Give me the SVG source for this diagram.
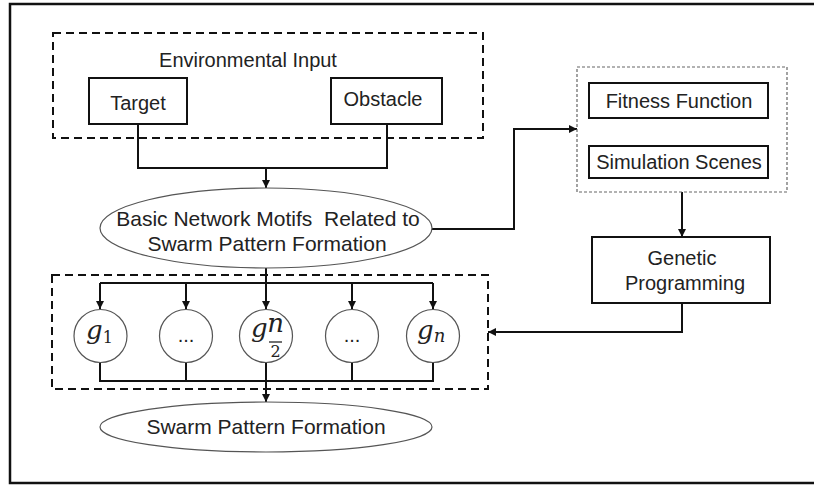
<svg xmlns="http://www.w3.org/2000/svg" width="814" height="485" viewBox="0 0 814 485">
<defs>
<marker id="arr" viewBox="0 0 10 10" refX="10" refY="5" markerWidth="9" markerHeight="8" markerUnits="userSpaceOnUse" orient="auto">
<path d="M0,0 L10,5 L0,10 z" fill="#111"/>
</marker>
<style>
.t{font-family:"Liberation Sans",Arial,sans-serif;font-size:20px;fill:#222;text-anchor:middle;white-space:pre}
.te{font-size:21px}
.box{fill:#fff;stroke:#111;stroke-width:2}
.dash{fill:none;stroke:#111;stroke-width:2;stroke-dasharray:8 5}
.dot{fill:none;stroke:#666;stroke-width:1.2;stroke-dasharray:3 2}
.ell{fill:#fff;stroke:#555;stroke-width:1.2}
.c{fill:none;stroke:#111;stroke-width:2}
.ca{fill:none;stroke:#111;stroke-width:2;marker-end:url(#arr)}
.m{font-family:"DejaVu Serif","Liberation Serif",serif;font-style:italic;font-size:26px;fill:#222}
.ms{font-family:"DejaVu Serif","Liberation Serif",serif;font-size:16px;fill:#222}
</style>
</defs>
<rect width="814" height="485" fill="#fff"/>
<rect x="10" y="4" width="830" height="479" fill="none" stroke="#111" stroke-width="2.5"/>

<g id="env-input">
<rect class="dash" x="53" y="33" width="430" height="105"/>
<text class="t" x="248" y="67" font-size="21">Environmental Input</text>
</g>
<g id="target">
<rect class="box" x="89" y="78" width="98" height="46"/>
<text class="t" x="138" y="110">Target</text>
</g>
<g id="obstacle">
<rect class="box" x="331" y="78" width="111" height="46"/>
<text class="t" x="383" y="106">Obstacle</text>
</g>

<g id="connectors">
<path class="c" d="M138 124 V168 H387 V124"/>
<path class="ca" d="M266 168 V188"/>
<path class="ca" d="M432 229 H514 V129 H577"/>
<path class="ca" d="M682 192 V237"/>
<path class="ca" d="M682 303 V332 H488"/>
<path class="c" d="M266 268 V283 M100 283 H433"/>
<path class="ca" d="M100 283 V309"/>
<path class="ca" d="M186 283 V309"/>
<path class="ca" d="M266 283 V309"/>
<path class="ca" d="M352 283 V309"/>
<path class="ca" d="M433 283 V309"/>
<path class="c" d="M100 363 V381 H433 V363 M186 363 V381 M352 363 V381"/>
<path class="ca" d="M266 363 V402"/>
</g>

<g id="motifs">
<ellipse class="ell" cx="266" cy="228" rx="166" ry="40"/>
<text class="t te" x="268" y="226" xml:space="preserve">Basic Network Motifs  Related to</text>
<text class="t te" x="267" y="251">Swarm Pattern Formation</text>
</g>

<g id="sim-group">
<rect class="dot" x="577" y="67" width="210" height="125"/>
</g>
<g id="fitness">
<rect class="box" x="589" y="83" width="179" height="35"/>
<text class="t" x="679" y="108">Fitness Function</text>
</g>
<g id="scenes">
<rect class="box" x="589" y="146" width="179" height="32"/>
<text class="t" x="679" y="169">Simulation Scenes</text>
</g>
<g id="gp">
<rect class="box" x="592" y="237" width="178" height="66"/>
<text class="t" x="682" y="265">Genetic</text>
<text class="t" x="685" y="290">Programming</text>
</g>

<g id="gene-group">
<rect class="dash" x="52" y="275" width="436" height="114"/>
</g>
<g id="g1">
<circle class="ell" cx="100.5" cy="336" r="26.5"/>
<text class="m" x="86" y="339">g<tspan class="ms" font-style="normal" font-size="17" dy="4">1</tspan></text>
</g>
<g id="dots1">
<circle class="ell" cx="186" cy="336" r="26.5"/>
<text class="t" x="186" y="342" font-size="16">...</text>
</g>
<g id="gmid">
<circle class="ell" cx="266" cy="336" r="26.5"/>
<text class="m" x="251" y="337">g</text>
<text class="m" x="275.5" y="332" font-size="17" text-anchor="middle">n</text>
<line x1="269" y1="342" x2="282" y2="342" stroke="#222" stroke-width="1.3"/>
<text class="ms" x="275.5" y="357" text-anchor="middle">2</text>
</g>
<g id="dots2">
<circle class="ell" cx="352" cy="336" r="26.5"/>
<text class="t" x="352" y="342" font-size="16">...</text>
</g>
<g id="gn">
<circle class="ell" cx="433" cy="336" r="26.5"/>
<text class="m" x="417" y="339">g<tspan font-size="18" dy="3">n</tspan></text>
</g>

<g id="formation">
<ellipse class="ell" cx="266" cy="427" rx="166" ry="25"/>
<text class="t te" x="266" y="434">Swarm Pattern Formation</text>
</g>
</svg>
